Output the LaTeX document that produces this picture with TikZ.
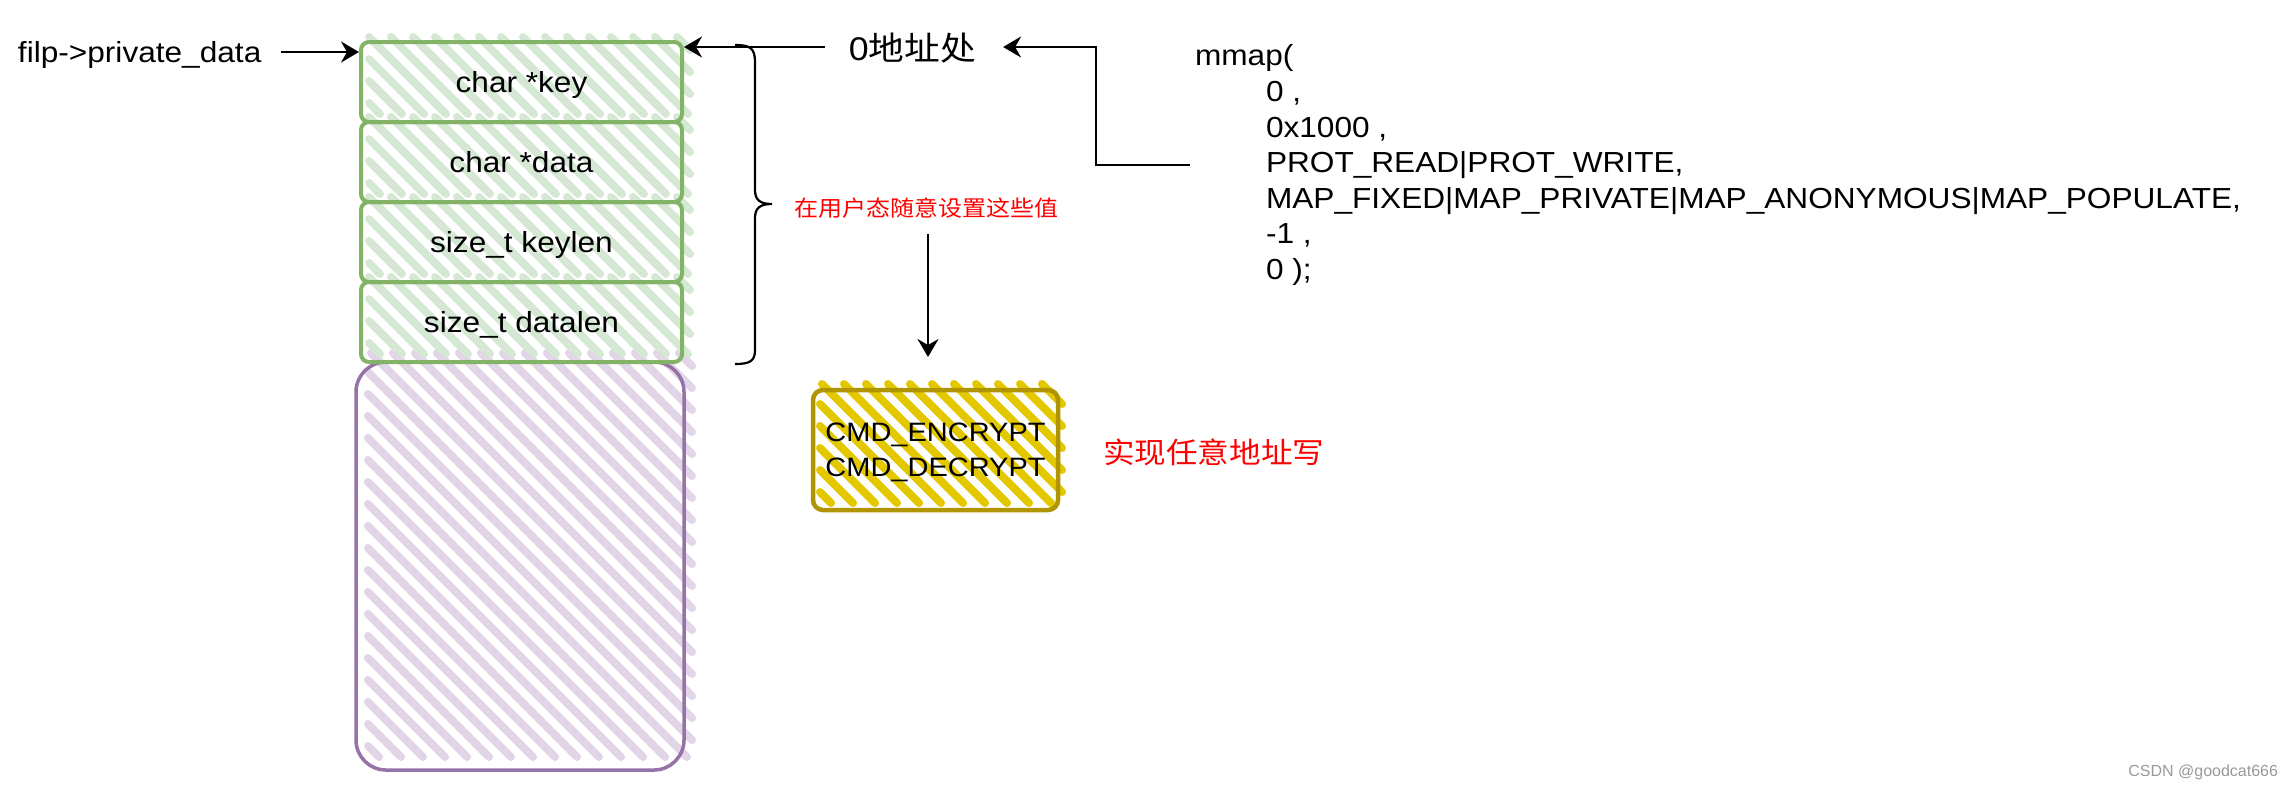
\documentclass[tikz,border=0pt]{standalone}
\usepackage{fontspec}
\setmainfont{Liberation Sans}[FakeStretch=1.09]
\newfontfamily\plainfont{Liberation Sans}
\newfontfamily\cjk{Noto Sans CJK SC}[FakeStretch=1.09]
\usetikzlibrary{arrows.meta,calc}
\definecolor{gstroke}{HTML}{82B366}
\definecolor{gfill}{HTML}{D5E8D4}
\definecolor{pstroke}{HTML}{9673A6}
\definecolor{pfill}{HTML}{E1D5E7}
\definecolor{ystroke}{HTML}{B09500}
\definecolor{yfill}{HTML}{E3C800}
\definecolor{redtxt}{HTML}{FF0000}
\definecolor{wm}{HTML}{9A9A9A}
% hachure fill: X1 Y1 X2 Y2 spacing style  (lines at 45 deg, going down-right)
\newcommand{\myhatch}[6]{%
  \pgfmathsetmacro{\hatA}{#1-#4}%
  \pgfmathtruncatemacro{\hatN}{((#3)-(#1)+(#4)-(#2))/(#5)}%
  \foreach \hatI in {0,...,\hatN}{%
    \pgfmathsetmacro{\hatD}{\hatA+(\hatI+0.5)*(#5)}%
    \pgfmathsetmacro{\hatS}{max(#2,(#1)-(\hatD))}%
    \pgfmathsetmacro{\hatE}{min(#4,(#3)-(\hatD))}%
    \ifdim\hatS pt<\hatE pt
      \draw[#6] ({\hatS+\hatD},{\hatS}) -- ({\hatE+\hatD},{\hatE});
    \fi
  }}
\tikzset{
  plain/.style={inner sep=0pt, outer sep=0pt},
  ghatch/.style={draw=gfill, line width=4pt, line cap=round},
  phatch/.style={draw=pfill, line width=4pt, line cap=round},
  yhatch/.style={draw=yfill, line width=4pt, line cap=round},
  gbox/.style={draw=gstroke, line width=2pt, rounded corners=4pt,
    minimum width=160.5pt, minimum height=40pt, inner sep=0pt,
    text height=10.38pt, text depth=0pt, font=\fontsize{14.5}{17.4}\selectfont},
  pbox/.style={draw=pstroke, line width=1.75pt, rounded corners=15pt,
    minimum width=164pt, minimum height=204pt, inner sep=0pt},
  ybox/.style={draw=ystroke, line width=2.25pt, rounded corners=5pt,
    minimum width=122.5pt, minimum height=60pt, inner sep=0pt, align=center,
    text depth=0pt, font=\fontsize{13.3}{17.5}\selectfont},
  arr/.style={line width=1.15pt, -{Stealth[length=9pt,width=10.5pt,inset=3pt]}},
  bracestyle/.style={line width=1.1pt},
}
\begin{document}
\begin{tikzpicture}[x=0.5pt,y=-0.5pt]
\fill[white] (0,0) rectangle (2294,788);
\useasboundingbox (0,0) rectangle (2294,788);

% purple block
\myhatch{368}{353}{692}{757}{22}{phatch}
\node[pbox] (heap) at (520,566) {};

% green struct fields
\myhatch{369}{37}{690}{114}{22}{ghatch}
\myhatch{369}{117}{690}{194}{22}{ghatch}
\myhatch{369}{197}{690}{274}{22}{ghatch}
\myhatch{369}{277}{690}{354}{22}{ghatch}
\node[gbox] (k1) at (521.5,82) {char *key};
\node[gbox] (k2) at (521.5,162) {char *data};
\node[gbox] (k3) at (521.5,242) {size\_t keylen};
\node[gbox] (k4) at (521.5,322) {size\_t datalen};

% yellow command box
\myhatch{820}{384}{1062}{503}{22}{yhatch}
\node[ybox] (cmd) at (935.5,450) {CMD\_ENCRYPT\\CMD\_DECRYPT};

% texts
\node[plain, anchor=base west, font=\fontsize{14.5}{17.4}\selectfont] (filp) at (18,62) {filp->private\_data};
\node[plain, anchor=base, font=\fontsize{16.4}{19.7}\selectfont] (zaddr) at (912.5,60) {0{\cjk 地址处}};
\node[plain, anchor=base, text=redtxt, font=\fontsize{11}{13.2}\selectfont] (note) at (926.5,216) {\cjk 在用户态随意设置这些值};
\node[plain, anchor=base west, text=redtxt, font=\fontsize{14.5}{17.4}\selectfont] (write) at (1103,463) {\cjk 实现任意地址写};
\node[plain, anchor=west, align=left, font=\fontsize{14.5}{17.8}\selectfont] (mmap) at (1195,165.2)
  {mmap(\\
   \hspace*{35.5pt}0 ,\\
   \hspace*{35.5pt}0x1000 ,\\
   \hspace*{35.5pt}PROT\_READ|PROT\_WRITE,\\
   \hspace*{35.5pt}MAP\_FIXED|MAP\_PRIVATE|MAP\_ANONYMOUS|MAP\_POPULATE,\\
   \hspace*{35.5pt}-1 ,\\
   \hspace*{35.5pt}0 );};
\node[plain, anchor=base east, text=wm, font=\plainfont\fontsize{8}{9.6}\selectfont] (csdn) at (2278,776) {CSDN @goodcat666};

% connectors
\coordinate (fy) at (0,52);
\coordinate (zl) at (0,47);
\coordinate (my) at (0,165);
\coordinate (bend) at (1096,47);
\coordinate (dtip) at (928,357);
\draw[arr, shorten <=10pt] (fy -| filp.east) -- (fy -| k1.west);
\draw[arr, shorten <=12pt] (zl -| zaddr.west) -- (zl -| k1.east);
\draw[arr, shorten <=2.5pt, shorten >=13.5pt] (my -| mmap.west) -| (bend) -- (bend -| zaddr.east);
\draw[arr, shorten <=8pt] (note.south -| dtip) -- (dtip);

% curly brace
\draw[bracestyle] (735,45) .. controls (750,45) and (755,48) .. (755,62)
  -- (755,190) .. controls (755,200) and (760,204) .. (772,204)
  .. controls (760,204) and (755,208) .. (755,218)
  -- (755,350) .. controls (755,361) and (750,364) .. (735,364);
\end{tikzpicture}
\end{document}
